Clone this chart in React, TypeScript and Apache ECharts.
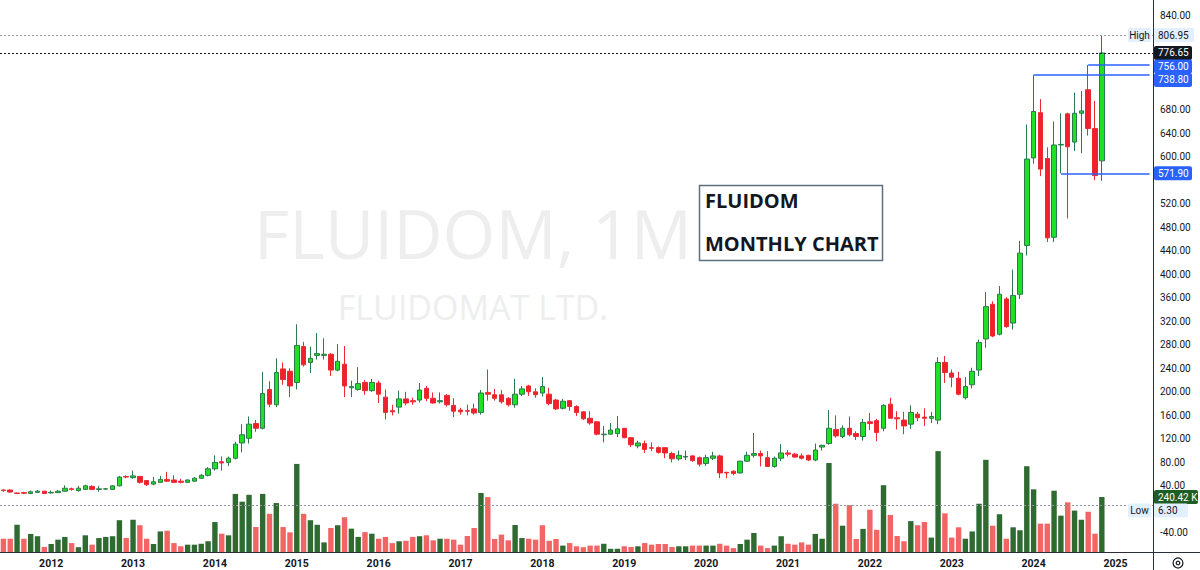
import React, { useEffect, useRef } from "react";
import * as echarts from "echarts";

// ---------- DATA ----------
const START_YEAR = 2011;
const START_MONTH = 6; // first monthly candle: June 2011
const N_CATEGORIES = 169; // axis runs to June 2025 (empty space on the right)

const open = [
  33, 33, 28, 28.5, 27, 29, 31, 28, 28.5, 31,
  35, 32, 34, 39, 34, 34.5, 34, 40, 56, 54,
  56, 49, 43, 46, 51, 50, 48, 46, 48, 53,
  58, 69, 81, 80, 87, 113, 121, 146, 138, 204,
  178, 239, 235, 216, 277, 250, 262, 262, 264, 237,
  247, 207, 204, 216, 202, 215, 191, 168, 174, 188,
  185, 186, 206, 189, 183, 194, 177, 169, 168, 171,
  165, 199, 195, 195, 189, 178, 196, 210, 200, 198,
  196, 186, 172, 185, 175, 166, 155, 149, 127, 128,
  129, 138, 122, 108, 112, 105, 105, 105, 95, 86,
  89, 91, 88, 78, 87, 91, 63, 65, 62, 82,
  92, 95, 88, 73, 87, 96, 94, 91, 92, 84,
  106, 112, 136, 124, 138, 129, 124, 149, 151, 138,
  179, 156, 152, 145, 162, 157, 155, 152, 250, 232,
  223, 190, 212, 237, 290, 349, 298, 358, 317, 366,
  449, 598, 675, 597, 463, 620, 673, 625, 674, 714,
  648, 593,
];
const close = [
  32, 29.5, 27, 27.5, 30, 31, 27, 29, 31, 36,
  34, 36, 40, 34, 35, 35, 40, 55, 55, 57,
  46, 42, 47, 51, 48, 46, 46, 50, 53, 58,
  69, 80, 79, 87, 111, 127, 145, 138, 197, 179,
  233, 221, 210, 279, 246, 257, 265, 264, 237, 252,
  210, 209, 214, 202, 216, 196, 165, 166, 188, 181,
  183, 203, 189, 181, 185, 178, 167, 166, 167, 164,
  198, 196, 189, 183, 178, 196, 205, 200, 195, 209,
  180, 171, 184, 175, 165, 154, 147, 128, 128, 135,
  137, 122, 110, 113, 102, 104, 97, 96, 86, 92,
  90, 83, 77, 88, 91, 62, 62, 61, 82, 92,
  95, 91, 73, 87, 96, 94, 89, 87, 84, 101,
  109, 138, 125, 138, 127, 124, 148, 146, 131, 177,
  155, 154, 142, 165, 156, 155, 158, 250, 233, 225,
  196, 209, 235, 284, 345, 295, 366, 311, 364, 436,
  596, 677, 579, 462, 620, 621, 617, 674, 678, 648,
  568, 776.65,
];
const low = [
  30, 28, 26, 26, 26, 28, 26, 27, 28, 30,
  32, 30, 33, 33, 30, 33, 33, 39, 53, 52,
  44, 40, 41, 45, 47, 45, 44, 45, 47, 52,
  56, 66, 66, 74, 85, 97, 112, 132, 136, 174,
  174, 212, 191, 204, 243, 232, 255, 255, 227, 235,
  191, 191, 202, 195, 200, 181, 153, 160, 163, 177,
  178, 182, 184, 180, 180, 175, 157, 161, 160, 161,
  161, 185, 185, 180, 175, 173, 193, 193, 190, 192,
  177, 169, 170, 168, 159, 152, 144, 126, 114, 127,
  123, 121, 106, 104, 96, 99, 95, 87, 80, 83,
  84, 81, 73, 74, 84, 53, 53, 58, 61, 81,
  88, 73, 72, 71, 82, 90, 88, 85, 82, 82,
  100, 110, 122, 121, 124, 118, 117, 135, 116, 133,
  155, 136, 128, 137, 150, 142, 147, 145, 215, 208,
  194, 187, 206, 227, 275, 293, 296, 309, 306, 358,
  432, 588, 567, 455, 455, 571.9, 495, 610, 606, 636,
  560, 559,
];
const high = [
  34, 34, 28.5, 30, 32, 33, 31.5, 32, 33, 41,
  37, 40, 42, 41, 40, 36, 41, 57, 58, 66,
  57, 50, 55, 57, 64, 58, 52, 51, 55, 60,
  72, 92, 90, 90, 115, 145, 158, 152, 234, 218,
  257, 250, 240, 315, 285, 277, 300, 291, 266, 281,
  278, 219, 242, 220, 222, 219, 204, 178, 202, 200,
  190, 215, 210, 199, 199, 196, 189, 173, 178, 180,
  203, 238, 205, 203, 191, 222, 210, 212, 206, 225,
  207, 188, 188, 186, 177, 167, 167, 150, 142, 147,
  159, 138, 123, 117, 117, 114, 107, 106, 98, 100,
  100, 92, 90, 93, 98, 93, 64, 66, 83, 98,
  130, 100, 99, 90, 111, 101, 96, 95, 93, 112,
  110, 169, 160, 143, 158, 133, 154, 164, 154, 179,
  190, 167, 166, 177, 166, 172, 166, 259, 261, 238,
  234, 225, 241, 289, 370, 354, 380, 361, 408, 457,
  655, 738.8, 698, 616, 660, 674, 675, 709, 712, 756,
  695, 806.95,
];
// volume in thousands of shares
const volumeK = [
  58, 58, 119, 58, 79, 69, 22, 35, 54, 66,
  39, 21, 73, 32, 61, 66, 69, 139, 61, 141,
  117, 58, 35, 90, 93, 39, 25, 32, 32, 36,
  47, 131, 80, 73, 254, 220, 250, 109, 254, 167,
  214, 109, 86, 385, 167, 139, 119, 42, 105, 117,
  152, 102, 66, 87, 80, 58, 66, 39, 47, 49,
  66, 69, 73, 51, 58, 58, 54, 32, 70, 105,
  258, 240, 57, 76, 51, 118, 61, 58, 54, 117,
  49, 57, 28, 39, 25, 21, 28, 28, 36, 14,
  14, 25, 22, 25, 39, 32, 35, 35, 22, 25,
  25, 28, 28, 28, 28, 36, 28, 17, 35, 54,
  83, 28, 17, 28, 69, 36, 32, 42, 32, 79,
  58, 389, 211, 115, 205, 57, 101, 185, 97, 292,
  162, 70, 47, 135, 117, 131, 63, 441, 169, 63,
  108, 58, 90, 211, 403, 115, 165, 58, 108, 95,
  375, 274, 124, 124, 268, 159, 217, 181, 141, 176,
  80, 240.42,
];
// volume bar colour per month as seen in the picture: g = up, r = down
const volumeDir =
  "rrgrggrggg" + "rggrggggrg" + "rrggrrrggg" + "ggrggggrgr" +
  "grrgrgggrg" + "rggrgrrrgr" + "rgrrgrrrrr" + "grrrrggrrr" +
  "rrgrrrrrgg" + "grrgrrrrrg" + "grrggrrrgg" + "grrggrrrrg" +
  "ggrgrrgrrg" + "rrrgrrggrr" + "rggggrgrgg" + "ggrrggrggr" + "rg";

const RANGE_HIGH = 806.95;
const RANGE_LOW = 6.3;
const LAST_CLOSE = 776.65;
const LAST_VOLUME = 240.42;
// horizontal rays drawn on the chart: [price, index of starting month]
const rayPrices = [756.0, 738.8, 571.9];
const rayStart = [159, 151, 155];

const PRICE_MIN = -80;
const PRICE_MAX = 866.7;
const PRICE_STEP = 40;
const VOLUME_MAX = 489.6;

const WATERMARK_1 = "FLUIDOM, 1M";
const WATERMARK_2 = "FLUIDOMAT LTD.";
const NOTE_1 = "FLUIDOM";
const NOTE_2 = "MONTHLY CHART";

// ---------- helpers ----------
const categories: string[] = [];
for (let k = 0; k < N_CATEGORIES; k++) {
  const m = START_MONTH - 1 + k;
  const y = START_YEAR + Math.floor(m / 12);
  const mm = (m % 12) + 1;
  categories.push(`${y}-${String(mm).padStart(2, "0")}`);
}

const UP_FILL = "#1fe023";
const UP_BORDER = "#2a7a4c";
const DOWN_FILL = "#f2202b";
const DOWN_BORDER = "#ea2a33";
const VOL_UP = "#2f6b31";
const VOL_DOWN = "#f36464";
const AXIS_TEXT = "#131722";
const AXIS_LINE = "#2a2e39";
const BLUE = "#2962ff";

const PLOT_RIGHT = 47; // right price-scale width
const AXIS_X = 1200 - PLOT_RIGHT;

function priceLabelStyle(hidden: Set<number>) {
  return {
    margin: 7,
    color: AXIS_TEXT,
    fontSize: 10,
    fontFamily: "Roboto",
    showMinLabel: false,
    showMaxLabel: false,
    formatter: (v: number) => (hidden.has(Math.round(v)) ? "" : v.toFixed(2)),
  };
}

function buildOption(): any {
  const candleData = open.map((o, i) => [o, close[i], low[i], high[i]]);
  const volData = volumeK.map((v, i) => ({
    value: v,
    itemStyle: { color: volumeDir[i] === "g" ? VOL_UP : VOL_DOWN },
  }));
  const lastCat = categories[categories.length - 1];
  const rays = rayPrices.map((p, k) => [
    { coord: [categories[rayStart[k]], p] },
    { coord: [lastCat, p] },
  ]);
  return {
    animation: false,
    backgroundColor: "#ffffff",
    grid: [
      { left: 0, right: PLOT_RIGHT, top: 0, bottom: 13.6 },
      { left: 0, right: PLOT_RIGHT, top: 440, bottom: 18 },
    ],
    xAxis: [
      {
        type: "category",
        gridIndex: 0,
        data: categories,
        boundaryGap: true,
        show: false,
      },
      {
        type: "category",
        gridIndex: 1,
        data: categories,
        boundaryGap: true,
        axisLine: { show: false },
        axisTick: { show: false },
        splitLine: { show: false },
        axisLabel: {
          interval: (_i: number, v: string) => v.endsWith("-01"),
          formatter: (v: string) => v.slice(0, 4),
          color: AXIS_TEXT,
          fontSize: 10.5,
          fontWeight: "bold",
          fontFamily: "Roboto",
          margin: 6,
        },
      },
    ],
    yAxis: [
      {
        type: "value",
        gridIndex: 0,
        position: "right",
        min: PRICE_MIN,
        max: PRICE_MAX,
        interval: PRICE_STEP,
        axisLine: { show: false },
        axisTick: { show: false },
        splitLine: { show: false },
        axisLabel: priceLabelStyle(new Set<number>()),
      },
      {
        type: "value",
        gridIndex: 1,
        min: 0,
        max: VOLUME_MAX,
        show: false,
        splitLine: { show: false },
      },
    ],
    series: [
      {
        type: "bar",
        name: "Volume",
        xAxisIndex: 1,
        yAxisIndex: 1,
        data: volData,
        barWidth: 5.4,
        z: 1,
      },
      {
        type: "candlestick",
        name: "FLUIDOM",
        xAxisIndex: 0,
        yAxisIndex: 0,
        data: candleData,
        barWidth: 5,
        z: 3,
        itemStyle: {
          color: UP_FILL,
          color0: DOWN_FILL,
          borderColor: UP_BORDER,
          borderColor0: DOWN_BORDER,
          borderWidth: 1,
        },
        markLine: {
          silent: true,
          symbol: "none",
          animation: false,
          label: { show: false },
          data: [
            { yAxis: RANGE_HIGH, lineStyle: { type: [2, 2], color: "#9598a1", width: 1 } },
            { yAxis: LAST_CLOSE, lineStyle: { type: [2, 2], color: "#131722", width: 1 } },
            { yAxis: RANGE_LOW, lineStyle: { type: [2, 2], color: "#9598a1", width: 1 } },
            ...rays.map((r) => [
              { ...r[0], lineStyle: { type: "solid", color: BLUE, width: 1.5 } },
              r[1],
            ]),
          ],
        },
      },
    ],
  };
}

export default function App() {
  const ref = useRef<HTMLDivElement>(null);
  useEffect(() => {
    const el = ref.current;
    if (!el) return;
    const chart = echarts.init(el, null, { renderer: "svg" });
    chart.setOption(buildOption());

    const yP = (v: number) => chart.convertToPixel({ yAxisIndex: 0 }, v) as number;
    const yV = (v: number) => chart.convertToPixel({ yAxisIndex: 1 }, v) as number;

    const labels: any[] = [
      { y: yP(RANGE_HIGH), text: RANGE_HIGH.toFixed(2), bg: "#e3effd", fg: AXIS_TEXT, w: 40, tag: "High" },
      { y: yP(LAST_CLOSE), text: LAST_CLOSE.toFixed(2), bg: "#131722", fg: "#ffffff", w: 38 },
      ...rayPrices.map((p) => ({ y: yP(p), text: p.toFixed(2), bg: BLUE, fg: "#ffffff", w: 38 })),
      { y: yV(LAST_VOLUME), text: LAST_VOLUME.toFixed(2) + " K", bg: "#1e5e24", fg: "#ffffff", w: 44 },
      { y: yP(RANGE_LOW), text: RANGE_LOW.toFixed(2), bg: "#e3effd", fg: AXIS_TEXT, w: 34, tag: "Low" },
    ].sort((a, b) => a.y - b.y);
    let prev = -Infinity;
    for (const l of labels) {
      l.c = Math.max(l.y, prev + 13.5);
      prev = l.c;
    }

    // scale labels that the price tags cover are not drawn
    const hidden = new Set<number>();
    for (let t = PRICE_MIN; t <= 840; t += PRICE_STEP) {
      const ty = yP(t);
      if (labels.some((l) => Math.abs(l.c - ty) < 10.5)) hidden.add(t);
    }

    const labelEls: any[] = [];
    for (const l of labels) {
      labelEls.push({
        type: "rect",
        z: 50,
        shape: { x: AXIS_X + 1, y: l.c - 7, width: l.w, height: 14, r: 2 },
        style: { fill: l.bg },
      });
      labelEls.push({
        type: "text",
        z: 51,
        x: AXIS_X + 5,
        y: l.c,
        style: { text: l.text, fill: l.fg, fontSize: 10, fontFamily: "Roboto", verticalAlign: "middle", align: "left" },
      });
      if (l.tag) {
        labelEls.push({
          type: "rect",
          z: 50,
          shape: { x: AXIS_X - 25, y: l.c - 7, width: 23, height: 14, r: 2 },
          style: { fill: l.bg },
        });
        labelEls.push({
          type: "text",
          z: 51,
          x: AXIS_X - 13.5,
          y: l.c,
          style: { text: l.tag, fill: AXIS_TEXT, fontSize: 10, fontFamily: "Roboto", verticalAlign: "middle", align: "center" },
        });
      }
    }

    const staticEls: any[] = [
      {
        type: "text",
        z: 0,
        x: 473,
        y: 232,
        style: { text: WATERMARK_1, fill: "#eeeeee", fontSize: 68, fontFamily: "Open Sans", align: "center", verticalAlign: "middle" },
      },
      {
        type: "text",
        z: 0,
        x: 473,
        y: 307,
        style: { text: WATERMARK_2, fill: "#eeeeee", fontSize: 34, fontFamily: "Open Sans", align: "center", verticalAlign: "middle" },
      },
      {
        type: "rect",
        z: 10,
        shape: { x: 699.5, y: 185.5, width: 183, height: 75 },
        style: { fill: "#ffffff", stroke: "#5d7080", lineWidth: 1.5 },
      },
      {
        type: "text",
        z: 11,
        x: 705,
        y: 200,
        style: { text: NOTE_1, fill: AXIS_TEXT, fontSize: 20, fontWeight: "bold", fontFamily: "Open Sans", verticalAlign: "middle" },
      },
      {
        type: "text",
        z: 11,
        x: 705,
        y: 243,
        style: { text: NOTE_2, fill: AXIS_TEXT, fontSize: 20, fontWeight: "bold", fontFamily: "Open Sans", verticalAlign: "middle" },
      },
      {
        type: "line",
        z: 40,
        shape: { x1: AXIS_X + 0.5, y1: 0, x2: AXIS_X + 0.5, y2: 570 },
        style: { stroke: AXIS_LINE, lineWidth: 1 },
      },
      {
        type: "line",
        z: 40,
        shape: { x1: 0, y1: 552.5, x2: 1200, y2: 552.5 },
        style: { stroke: AXIS_LINE, lineWidth: 1 },
      },
      {
        type: "circle",
        z: 40,
        shape: { cx: 1178, cy: 563, r: 5 },
        style: { fill: "none", stroke: AXIS_TEXT, lineWidth: 1.2 },
      },
      {
        type: "circle",
        z: 40,
        shape: { cx: 1178, cy: 563, r: 1.8 },
        style: { fill: "none", stroke: AXIS_TEXT, lineWidth: 1.2 },
      },
    ];

    chart.setOption({
      yAxis: [{ axisLabel: priceLabelStyle(hidden) }, {}],
      graphic: [...staticEls, ...labelEls],
    });
    return () => chart.dispose();
  }, []);

  return (
    <div
      ref={ref}
      style={{ position: "fixed", left: 0, top: 0, width: 1200, height: 570, background: "#ffffff" }}
    />
  );
}
